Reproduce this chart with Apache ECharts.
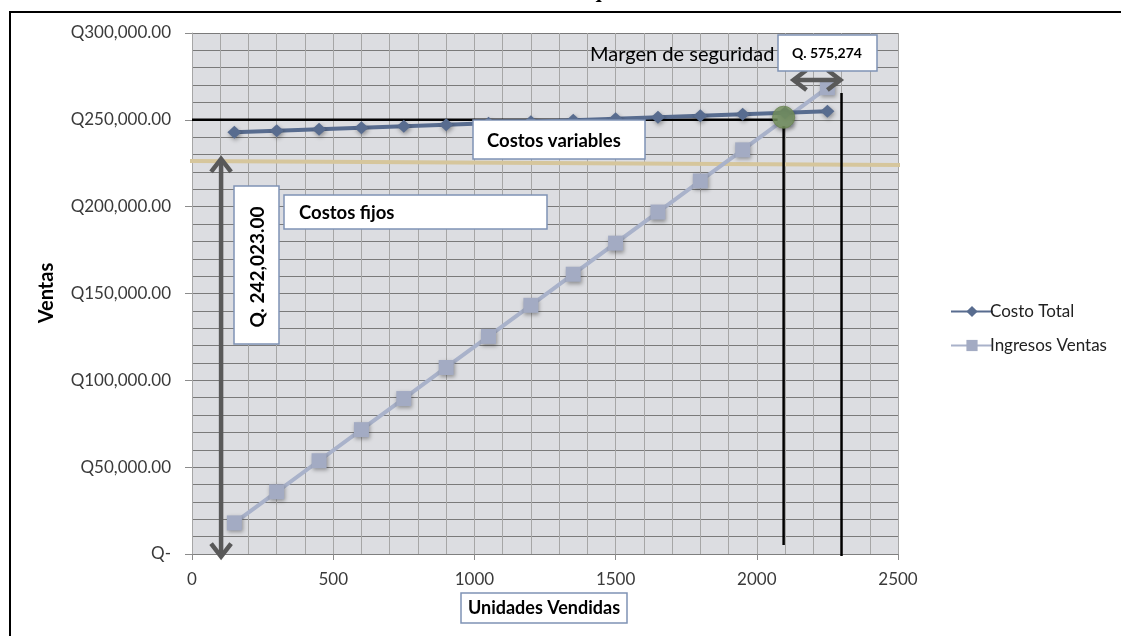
<!DOCTYPE html>
<html><head><meta charset="utf-8">
<script src="https://cdn.jsdelivr.net/npm/echarts@6/dist/echarts.min.js"></script>
<style>html,body{margin:0;padding:0;background:#fff}#c{width:1121px;height:636px}</style>
</head><body><div id="c"></div>
<script>
// ---- data ----
const unidades = [150, 300, 450, 600, 750, 900, 1050, 1200, 1350, 1500, 1650, 1800, 1950, 2100, 2250];
const costoTotal = [242900, 243750, 244620, 245480, 246340, 247210, 248070, 248930, 249800, 250660, 251520, 252390, 253250, 254110, 254980];
const ingresosVentas = [17900, 35800, 53700, 71600, 89500, 107400, 125300, 143200, 161100, 179000, 196900, 214800, 232700, 250600, 268500];
const seriesNames = ['Costo Total', 'Ingresos Ventas'];
const puntoEquilibrio = [2095, 251500];
const lineaCostoFijo = [[-7, 226300], [2518, 224000]];
const lineaEquilibrioH = [[0, 250000], [2095, 250000]];
const lineaEquilibrioV = [[2095, 250000], [2095, 5200]];
const lineaMargenV = [[2300, 265400], [2300, -1100]];
const flechaCostosFijos = [103, 227500, 103, -1500];
const flechaMargen = [2130, 272900, 2296, 272900];
const yMin = 0, yMax = 300000, yInterval = 50000;
const xMin = 0, xMax = 2500, xInterval = 500;
const titulo = 'Punto de equilibrio';
const ejeX = 'Unidades Vendidas';
const ejeY = 'Ventas';
const notaCostoFijo = 'Q. 242,023.00';
const notaFijos = 'Costos fijos';
const notaVariables = 'Costos variables';
const notaMargen = 'Margen de seguridad';
const notaMargenValor = 'Q. 575,274';

const pairs = (xs, ys) => xs.map((x, i) => [x, ys[i]]);

function arrowItem(params, api) {
  const p1 = api.coord([api.value(0), api.value(1)]);
  const p2 = api.coord([api.value(2), api.value(3)]);
  const dx = p2[0] - p1[0], dy = p2[1] - p1[1];
  const L = Math.hypot(dx, dy);
  const ux = dx / L, uy = dy / L, px = -uy, py = ux;
  const len = 13, hw = 10;
  const head = (t, s) => [
    [t[0] + s * ux * len + px * hw, t[1] + s * uy * len + py * hw],
    [t[0], t[1]],
    [t[0] + s * ux * len - px * hw, t[1] + s * uy * len - py * hw]
  ];
  const style = { stroke: '#595959', lineWidth: 4.5, fill: null, lineJoin: 'miter', lineCap: 'butt' };
  return {
    type: 'group', children: [
      { type: 'line', shape: { x1: p1[0] + ux * 2, y1: p1[1] + uy * 2, x2: p2[0] - ux * 2, y2: p2[1] - uy * 2 }, style: style },
      { type: 'polyline', shape: { points: head(p1, 1) }, style: style },
      { type: 'polyline', shape: { points: head(p2, -1) }, style: style }
    ]
  };
}

const FONT = 'Lato, "Noto Sans", sans-serif';
const BOX = { fill: '#ffffff', stroke: '#7f93b5', lineWidth: 1.5 };

function box(x, y, w, h) {
  return { type: 'rect', z: 100, shape: { x: x, y: y, width: w, height: h }, style: BOX };
}
function txt(text, x, y, opts) {
  opts = opts || {};
  return {
    type: 'text', z: 101, x: x, y: y, rotation: opts.rotation || 0,
    style: {
      text: text, x: 0, y: 0,
      fill: opts.fill || '#000',
      font: (opts.weight || 'bold') + ' ' + (opts.size || 17) + 'px ' + (opts.family || FONT),
      align: opts.align || 'left', textAlign: opts.align || 'left',
      verticalAlign: opts.va || 'middle', textVerticalAlign: opts.va || 'middle'
    }
  };
}

const chart = echarts.init(document.getElementById('c'));
chart.setOption({
  animation: false,
  backgroundColor: '#ffffff',
  grid: { left: 192, right: 223, top: 33, bottom: 82, show: true, backgroundColor: '#dcdde1', borderWidth: 0 },
  legend: {
    data: seriesNames,
    orient: 'vertical', left: 945, top: 298,
    itemWidth: 42, itemHeight: 14, itemGap: 17,
    textStyle: { fontFamily: FONT, fontSize: 17, color: '#222', padding: [0, 0, 0, -8] }
  },
  xAxis: {
    type: 'value', min: xMin, max: xMax, interval: xInterval,
    axisLine: { show: true, lineStyle: { color: '#7f7f7f', width: 1 } },
    axisTick: { show: true, length: 6, lineStyle: { color: '#8c8c8c' } },
    axisLabel: { margin: 17, fontFamily: FONT, fontSize: 17, color: '#3a3a3a', formatter: v => String(v) },
    splitLine: { show: true, lineStyle: { color: '#a6a6a6', width: 1 } },
    minorTick: { show: false, splitNumber: 5 },
    minorSplitLine: { show: true, lineStyle: { color: '#a6a6a6', width: 1 } }
  },
  yAxis: {
    type: 'value', min: yMin, max: yMax, interval: yInterval,
    axisLine: { show: true, lineStyle: { color: '#a6a6a6', width: 1 } },
    axisTick: { show: true, length: 7, lineStyle: { color: '#8c8c8c' } },
    axisLabel: {
      margin: 21, fontFamily: FONT, fontSize: 17, color: '#3a3a3a',
      formatter: v => v === 0 ? 'Q-' : 'Q' + v.toLocaleString('en-US', { minimumFractionDigits: 2, maximumFractionDigits: 2 })
    },
    splitLine: { show: true, lineStyle: { color: '#7a7a7a', width: 1 } },
    minorTick: { show: false, splitNumber: 5 },
    minorSplitLine: { show: true, lineStyle: { color: '#7a7a7a', width: 1 } }
  },
  series: [
    { type: 'line', name: 'fijo', data: lineaCostoFijo, showSymbol: false, silent: true, clip: false, z: 2,
      lineStyle: { color: '#d6c69c', width: 4 } },
    { type: 'line', name: 'eqH', data: lineaEquilibrioH, showSymbol: false, silent: true, clip: false, z: 2,
      lineStyle: { color: '#000', width: 2.5 } },
    { type: 'line', name: 'eqV', data: lineaEquilibrioV, showSymbol: false, silent: true, clip: false, z: 2,
      lineStyle: { color: '#000', width: 2.5 } },
    { type: 'line', name: 'margenV', data: lineaMargenV, showSymbol: false, silent: true, clip: false, z: 2,
      lineStyle: { color: '#000', width: 2.5 } },
    { type: 'line', name: seriesNames[1], data: pairs(unidades, ingresosVentas), z: 3,
      symbol: 'rect', symbolSize: 15,
      lineStyle: { color: '#a9b2ca', width: 4 },
      itemStyle: { color: '#a3abc3', shadowBlur: 4, shadowColor: 'rgba(0,0,0,0.35)', shadowOffsetX: 1, shadowOffsetY: 2 } },
    { type: 'line', name: seriesNames[0], data: pairs(unidades, costoTotal), z: 4,
      symbol: 'diamond', symbolSize: [14, 13],
      lineStyle: { color: '#586c8f', width: 4 },
      itemStyle: { color: '#586c8f', shadowBlur: 4, shadowColor: 'rgba(0,0,0,0.35)', shadowOffsetX: 1, shadowOffsetY: 2 } },
    { type: 'scatter', name: 'equilibrio', data: [puntoEquilibrio], symbolSize: 22, z: 5, silent: true,
      itemStyle: { color: '#7b9862', borderColor: '#6b8554', borderWidth: 1, shadowBlur: 4, shadowColor: 'rgba(0,0,0,0.35)', shadowOffsetY: 2 } },
    { type: 'custom', name: 'flechas', renderItem: arrowItem, data: [flechaCostosFijos, flechaMargen], z: 6, silent: true, clip: false }
  ],
  graphic: [
    { type: 'rect', z: 99, shape: { x: 10, y: 12, width: 1140, height: 660 }, style: { fill: null, stroke: '#000', lineWidth: 2 } },
    txt(titulo, 581, 2, { align: 'center', va: 'bottom', size: 22, family: '"Liberation Serif", serif' }),
    txt(ejeY, 47, 293, { align: 'center', size: 20, rotation: Math.PI / 2 }),
    box(461, 593, 166, 30),
    txt(ejeX, 544, 608, { align: 'center', size: 18 }),
    box(234, 186, 45, 158),
    txt(notaCostoFijo, 258, 267, { align: 'center', size: 19, rotation: Math.PI / 2 }),
    box(284, 195, 263, 34),
    txt(notaFijos, 299, 213, { size: 18.5 }),
    box(473, 120, 172, 39),
    txt(notaVariables, 487, 141, { size: 18.5 }),
    txt(notaMargen, 590, 55, { weight: 'normal', size: 20 }),
    box(778, 35, 99, 36),
    txt(notaMargenValor, 827, 53, { align: 'center', size: 14 })
  ]
});
</script>
</body></html>
